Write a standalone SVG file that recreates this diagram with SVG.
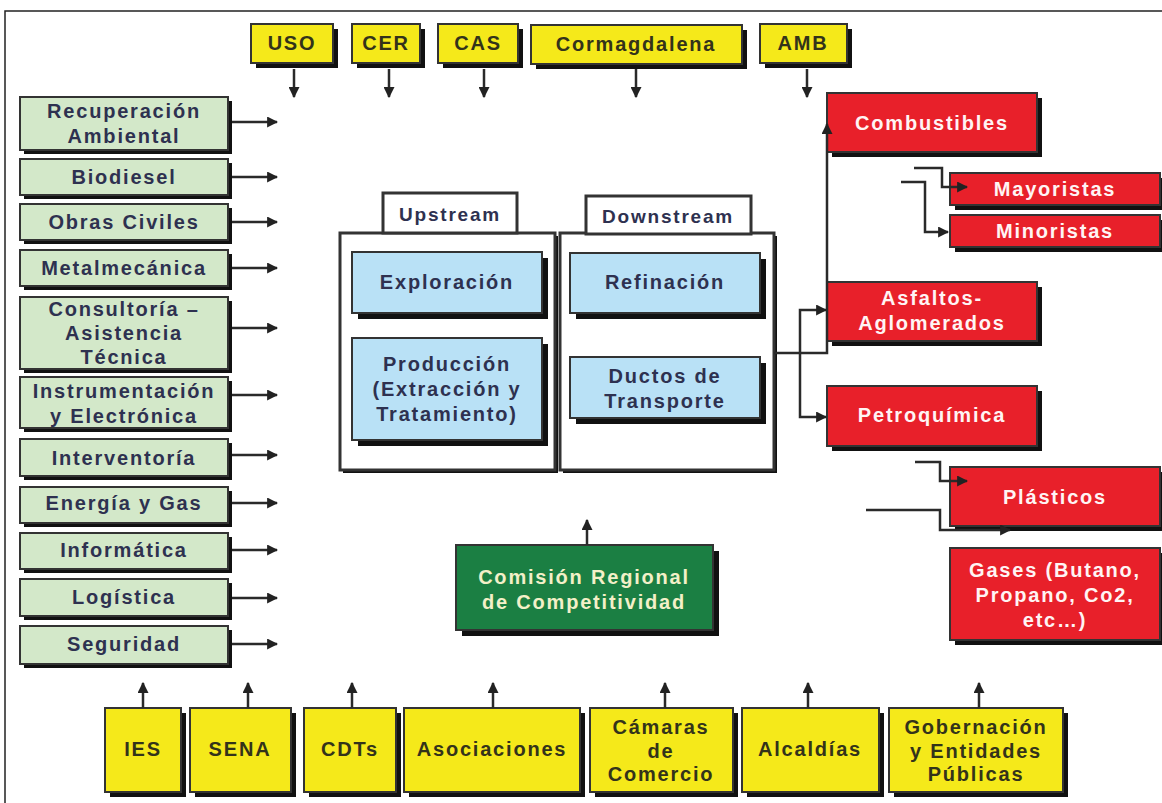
<svg xmlns="http://www.w3.org/2000/svg" width="1162" height="803" viewBox="0 0 1162 803">
<defs>
<marker id="ah" viewBox="0 0 10 10" refX="9" refY="5" markerWidth="11" markerHeight="11" markerUnits="userSpaceOnUse" orient="auto">
<path d="M0,0 L10,5 L0,10 Z" fill="#222"/>
</marker>
<style>
text{font-family:"Liberation Sans",Arial,sans-serif;font-weight:bold;font-size:20px;letter-spacing:1.8px;text-anchor:middle}
.sh{fill:#111}
.g{fill:#d3e8c9;stroke:#333;stroke-width:2}
.y{fill:#f5e91a;stroke:#333;stroke-width:2}
.b{fill:#b9e1f6;stroke:#333;stroke-width:2}
.r{fill:#e8202a;stroke:#333;stroke-width:2}
.dg{fill:#1b7f43;stroke:#333;stroke-width:2}
.w{fill:#fff;stroke:#333;stroke-width:3}
.tg{fill:#2e3150}
.ty{fill:#33331a}
.tr{fill:#fff4f4}
.tdg{fill:#f3f0c8}
.c{fill:none;stroke:#2a2a2a;stroke-width:2.5}
</style>
</defs>
<rect width="1162" height="803" fill="#fff"/>
<path d="M5 803 V11 H1162" fill="none" stroke="#222" stroke-width="1.5"/>

<g id="top-uso"><rect class="sh" x="256" y="29" width="82" height="39"/><rect class="y" x="251" y="24" width="82" height="39"/><text class="ty" x="292" y="50">USO</text></g>
<g id="top-cer"><rect class="sh" x="357" y="29" width="68" height="39"/><rect class="y" x="352" y="24" width="68" height="39"/><text class="ty" x="386" y="50">CER</text></g>
<g id="top-cas"><rect class="sh" x="443" y="29" width="80" height="39"/><rect class="y" x="438" y="24" width="80" height="39"/><text class="ty" x="478" y="50">CAS</text></g>
<g id="top-cormagdalena"><rect class="sh" x="536" y="30" width="211" height="39"/><rect class="y" x="531" y="25" width="211" height="39"/><text class="ty" x="636" y="51">Cormagdalena</text></g>
<g id="top-amb"><rect class="sh" x="765" y="29" width="87" height="39"/><rect class="y" x="760" y="24" width="87" height="39"/><text class="ty" x="803" y="50">AMB</text></g>

<g id="l-recuperacion"><rect class="sh" x="24" y="101" width="208" height="53"/><rect class="g" x="20" y="97" width="208" height="53"/><text class="tg" x="124" y="118">Recuperación</text><text class="tg" x="124" y="143">Ambiental</text></g>
<g id="l-biodiesel"><rect class="sh" x="24" y="163" width="208" height="36"/><rect class="g" x="20" y="159" width="208" height="36"/><text class="tg" x="124" y="184">Biodiesel</text></g>
<g id="l-obras"><rect class="sh" x="24" y="208" width="208" height="36"/><rect class="g" x="20" y="204" width="208" height="36"/><text class="tg" x="124" y="229">Obras Civiles</text></g>
<g id="l-metal"><rect class="sh" x="24" y="254" width="208" height="36"/><rect class="g" x="20" y="250" width="208" height="36"/><text class="tg" x="124" y="275">Metalmecánica</text></g>
<g id="l-consultoria"><rect class="sh" x="24" y="301" width="208" height="72"/><rect class="g" x="20" y="297" width="208" height="72"/><text class="tg" x="124" y="316">Consultoría –</text><text class="tg" x="124" y="340">Asistencia</text><text class="tg" x="124" y="364">Técnica</text></g>
<g id="l-instrumentacion"><rect class="sh" x="24" y="381" width="208" height="51"/><rect class="g" x="20" y="377" width="208" height="51"/><text class="tg" x="124" y="398">Instrumentación</text><text class="tg" x="124" y="423">y Electrónica</text></g>
<g id="l-interventoria"><rect class="sh" x="24" y="443" width="208" height="37"/><rect class="g" x="20" y="439" width="208" height="37"/><text class="tg" x="124" y="465">Interventoría</text></g>
<g id="l-energia"><rect class="sh" x="24" y="491" width="208" height="36"/><rect class="g" x="20" y="487" width="208" height="36"/><text class="tg" x="124" y="510">Energía y Gas</text></g>
<g id="l-informatica"><rect class="sh" x="24" y="537" width="208" height="36"/><rect class="g" x="20" y="533" width="208" height="36"/><text class="tg" x="124" y="557">Informática</text></g>
<g id="l-logistica"><rect class="sh" x="24" y="583" width="208" height="37"/><rect class="g" x="20" y="579" width="208" height="37"/><text class="tg" x="124" y="604">Logística</text></g>
<g id="l-seguridad"><rect class="sh" x="24" y="630" width="208" height="38"/><rect class="g" x="20" y="626" width="208" height="38"/><text class="tg" x="124" y="651">Seguridad</text></g>

<g id="upstream"><rect class="sh" x="343" y="236" width="215" height="237"/><rect class="w" x="340" y="233" width="215" height="237"/><rect class="w" x="383" y="193" width="134" height="40"/><text class="tg" x="450" y="221" style="font-size:19px">Upstream</text></g>
<g id="downstream"><rect class="sh" x="563" y="236" width="214" height="237"/><rect class="w" x="560" y="233" width="214" height="237"/><rect class="w" x="586" y="196" width="165" height="38"/><text class="tg" x="668" y="223" style="font-size:19px">Downstream</text></g>
<g id="exploracion"><rect class="sh" x="358" y="258" width="190" height="61"/><rect class="b" x="352" y="252" width="190" height="61"/><text class="tg" x="447" y="289">Exploración</text></g>
<g id="produccion"><rect class="sh" x="358" y="344" width="190" height="102"/><rect class="b" x="352" y="338" width="190" height="102"/><text class="tg" x="447" y="371">Producción</text><text class="tg" x="447" y="396">(Extracción y</text><text class="tg" x="447" y="421">Tratamiento)</text></g>
<g id="refinacion"><rect class="sh" x="576" y="259" width="190" height="60"/><rect class="b" x="570" y="253" width="190" height="60"/><text class="tg" x="665" y="289">Refinación</text></g>
<g id="ductos"><rect class="sh" x="576" y="363" width="190" height="61"/><rect class="b" x="570" y="357" width="190" height="61"/><text class="tg" x="665" y="383">Ductos de</text><text class="tg" x="665" y="408">Transporte</text></g>

<g id="combustibles"><rect class="sh" x="832" y="98" width="210" height="59"/><rect class="r" x="827" y="93" width="210" height="59"/><text class="tr" x="932" y="130">Combustibles</text></g>
<g id="mayoristas"><rect class="sh" x="955" y="178" width="210" height="32"/><rect class="r" x="950" y="173" width="210" height="32"/><text class="tr" x="1055" y="196">Mayoristas</text></g>
<g id="minoristas"><rect class="sh" x="955" y="220" width="210" height="32"/><rect class="r" x="950" y="215" width="210" height="32"/><text class="tr" x="1055" y="238">Minoristas</text></g>
<g id="asfaltos"><rect class="sh" x="832" y="287" width="210" height="59"/><rect class="r" x="827" y="282" width="210" height="59"/><text class="tr" x="932" y="305">Asfaltos-</text><text class="tr" x="932" y="330">Aglomerados</text></g>
<g id="petroquimica"><rect class="sh" x="832" y="391" width="210" height="60"/><rect class="r" x="827" y="386" width="210" height="60"/><text class="tr" x="932" y="422">Petroquímica</text></g>
<g id="plasticos"><rect class="sh" x="955" y="472" width="210" height="59"/><rect class="r" x="950" y="467" width="210" height="59"/><text class="tr" x="1055" y="504">Plásticos</text></g>
<g id="gases"><rect class="sh" x="955" y="553" width="210" height="92"/><rect class="r" x="950" y="548" width="210" height="92"/><text class="tr" x="1055" y="577">Gases (Butano,</text><text class="tr" x="1055" y="602">Propano, Co2,</text><text class="tr" x="1055" y="627">etc…)</text></g>

<g id="comision"><rect class="sh" x="462" y="551" width="257" height="85"/><rect class="dg" x="456" y="545" width="257" height="85"/><text class="tdg" x="584" y="584">Comisión Regional</text><text class="tdg" x="584" y="609">de Competitividad</text></g>

<g id="b-ies"><rect class="sh" x="110" y="713" width="76" height="84"/><rect class="y" x="105" y="708" width="76" height="84"/><text class="ty" x="143" y="756">IES</text></g>
<g id="b-sena"><rect class="sh" x="195" y="713" width="101" height="84"/><rect class="y" x="190" y="708" width="101" height="84"/><text class="ty" x="240" y="756">SENA</text></g>
<g id="b-cdts"><rect class="sh" x="309" y="713" width="92" height="84"/><rect class="y" x="304" y="708" width="92" height="84"/><text class="ty" x="350" y="756">CDTs</text></g>
<g id="b-asociaciones"><rect class="sh" x="409" y="713" width="176" height="84"/><rect class="y" x="404" y="708" width="176" height="84"/><text class="ty" x="492" y="756">Asociaciones</text></g>
<g id="b-camaras"><rect class="sh" x="595" y="713" width="143" height="84"/><rect class="y" x="590" y="708" width="143" height="84"/><text class="ty" x="661" y="734">Cámaras</text><text class="ty" x="661" y="758">de</text><text class="ty" x="661" y="781">Comercio</text></g>
<g id="b-alcaldias"><rect class="sh" x="747" y="713" width="137" height="84"/><rect class="y" x="742" y="708" width="137" height="84"/><text class="ty" x="810" y="756">Alcaldías</text></g>
<g id="b-gobernacion"><rect class="sh" x="894" y="713" width="174" height="84"/><rect class="y" x="889" y="708" width="174" height="84"/><text class="ty" x="976" y="734">Gobernación</text><text class="ty" x="976" y="758">y Entidades</text><text class="ty" x="976" y="781">Públicas</text></g>

<g id="connectors">
<path class="c" marker-end="url(#ah)" d="M294 69 V97"/>
<path class="c" marker-end="url(#ah)" d="M389 69 V97"/>
<path class="c" marker-end="url(#ah)" d="M484 69 V97"/>
<path class="c" marker-end="url(#ah)" d="M636 69 V97"/>
<path class="c" marker-end="url(#ah)" d="M807 69 V97"/>
<path class="c" marker-end="url(#ah)" d="M232 122 H277"/>
<path class="c" marker-end="url(#ah)" d="M232 177 H277"/>
<path class="c" marker-end="url(#ah)" d="M232 222 H277"/>
<path class="c" marker-end="url(#ah)" d="M232 268 H277"/>
<path class="c" marker-end="url(#ah)" d="M232 328 H277"/>
<path class="c" marker-end="url(#ah)" d="M232 395 H277"/>
<path class="c" marker-end="url(#ah)" d="M232 455 H277"/>
<path class="c" marker-end="url(#ah)" d="M232 503 H277"/>
<path class="c" marker-end="url(#ah)" d="M232 550 H277"/>
<path class="c" marker-end="url(#ah)" d="M232 598 H277"/>
<path class="c" marker-end="url(#ah)" d="M232 644 H277"/>
<path class="c" marker-end="url(#ah)" d="M143 708 V683"/>
<path class="c" marker-end="url(#ah)" d="M248 708 V683"/>
<path class="c" marker-end="url(#ah)" d="M352 708 V683"/>
<path class="c" marker-end="url(#ah)" d="M493 708 V683"/>
<path class="c" marker-end="url(#ah)" d="M665 708 V683"/>
<path class="c" marker-end="url(#ah)" d="M808 708 V683"/>
<path class="c" marker-end="url(#ah)" d="M979 708 V683"/>
<path class="c" marker-end="url(#ah)" d="M587 545 V520"/>
<path class="c" marker-end="url(#ah)" d="M774 353 H827 V124"/>
<path class="c" marker-end="url(#ah)" d="M800 353 V310 H826"/>
<path class="c" marker-end="url(#ah)" d="M800 353 V417 H826"/>
<path class="c" marker-end="url(#ah)" d="M914 168 H942 V187 H967"/>
<path class="c" marker-end="url(#ah)" d="M901 182 H925 V232 H948"/>
<path class="c" marker-end="url(#ah)" d="M915 462 H940 V481 H967"/>
<path class="c" marker-end="url(#ah)" d="M866 510 H940 V530 H1010"/>
</g>
</svg>
